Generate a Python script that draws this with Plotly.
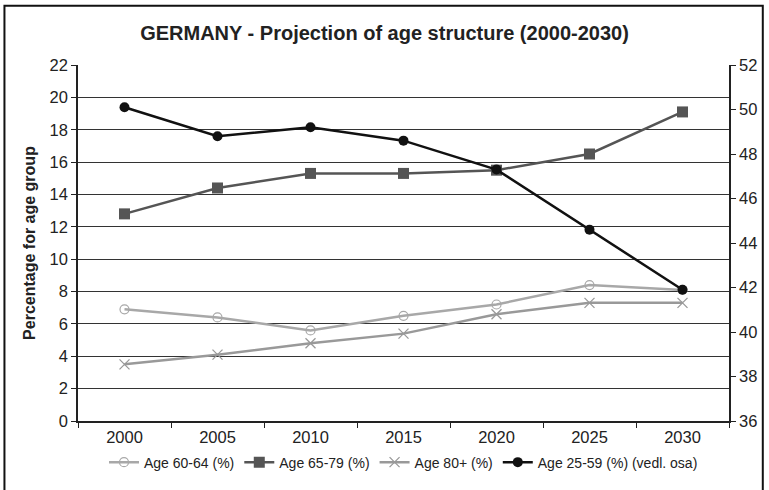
import plotly.graph_objects as go

years = ["2000", "2005", "2010", "2015", "2020", "2025", "2030"]
age_60_64 = [6.9, 6.4, 5.6, 6.5, 7.2, 8.4, 8.1]
age_65_79 = [12.8, 14.4, 15.3, 15.3, 15.5, 16.5, 19.1]
age_80p = [3.5, 4.1, 4.8, 5.4, 6.6, 7.3, 7.3]
age_25_59 = [50.1, 48.8, 49.2, 48.6, 47.3, 44.6, 41.9]

left_ticks = list(range(0, 23, 2))
right_ticks = list(range(36, 53, 2))

fig = go.Figure()
fig.add_trace(go.Scatter(x=years, y=age_60_64, name="Age 60-64 (%)", mode="lines+markers",
                         line=dict(color="#a8a8a8", width=2.5),
                         marker=dict(symbol="circle-open", size=9, color="#a8a8a8", line=dict(width=1.2))))
fig.add_trace(go.Scatter(x=years, y=age_65_79, name="Age 65-79 (%)", mode="lines+markers",
                         line=dict(color="#555555", width=2.5),
                         marker=dict(symbol="square", size=11, color="#555555")))
fig.add_trace(go.Scatter(x=years, y=age_80p, name="Age 80+ (%)", mode="lines+markers",
                         line=dict(color="#999999", width=2.5),
                         marker=dict(symbol="x-thin-open", size=10, color="#999999", line=dict(width=1.3, color="#999999"))))
fig.add_trace(go.Scatter(x=years, y=age_25_59, name="Age 25-59 (%) (vedl. osa)", mode="lines+markers",
                         yaxis="y2",
                         line=dict(color="#111111", width=2.5),
                         marker=dict(symbol="circle", size=10, color="#111111")))

fig.update_layout(
    width=769, height=490,
    margin=dict(l=78, r=36, t=65, b=65),
    paper_bgcolor="white", plot_bgcolor="white",
    font=dict(family="Liberation Sans, Arial, sans-serif", color="#222222"),
    title=dict(text="<b>GERMANY - Projection of age structure (2000-2030)</b>",
               x=0.5, xanchor="center", y=1 - 33 / 490, yanchor="middle",
               font=dict(size=20, color="#222222")),
    xaxis=dict(type="category", range=[-0.5, 6.5], showgrid=False,
               showline=True, linecolor="#222222", linewidth=1.5,
               ticks="outside", tickson="boundaries", ticklen=5, tickcolor="#222222",
               tickfont=dict(size=16.5, color="#222222")),
    yaxis=dict(range=[0, 22], tickvals=left_ticks, showgrid=True, gridcolor="#333333", gridwidth=1.3,
               showline=True, linecolor="#222222", linewidth=1.5, zeroline=False,
               ticks="outside", ticklen=5, tickcolor="#222222",
               tickfont=dict(size=16.5, color="#222222"),
               title=dict(text="<b>Percentage for age group</b>", font=dict(size=16, color="#222222"), standoff=10)),
    yaxis2=dict(range=[36, 52], tickvals=right_ticks, overlaying="y", side="right",
                showgrid=False, showline=True, linecolor="#222222", linewidth=1.5, zeroline=False,
                ticks="outside", ticklen=5, tickcolor="#222222",
                tickfont=dict(size=16.5, color="#222222")),
    legend=dict(orientation="h", x=0.5, xanchor="center", y=-42 / 360, yanchor="middle",
                font=dict(size=14, color="#222222"), itemwidth=30, tracegroupgap=0),
    showlegend=True,
)

fig.add_shape(type="rect", xref="paper", yref="paper",
              x0=-74 / 655, x1=(767 - 78) / 655, y0=-80 / 360, y1=1 + 60 / 360,
              line=dict(color="#111111", width=2), layer="below")

fig.write_html("out.html")
